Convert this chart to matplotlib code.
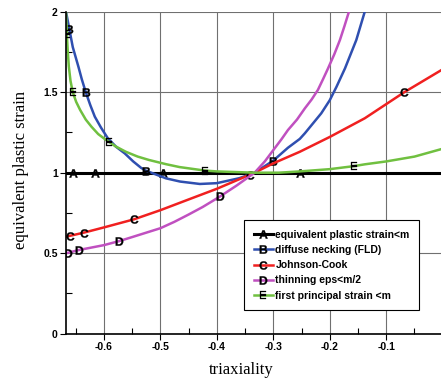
import matplotlib
matplotlib.use("Agg")
import matplotlib.pyplot as plt
from matplotlib.ticker import MultipleLocator, FormatStrFormatter

plt.rcParams['axes.unicode_minus'] = False
plt.rcParams['mathtext.fontset'] = 'custom'
plt.rcParams['mathtext.bf'] = 'Liberation Sans:bold'

# curve data (triaxiality, equivalent plastic strain)
a_x = [-0.667, -0.655, -0.616, -0.496, -0.253, -0.003]
a_y = [1.0, 1.0, 1.0, 1.0, 1.0, 1.0]

b_x = [-0.667, -0.661, -0.655, -0.645, -0.639, -0.632, -0.624, -0.616, -0.605, -0.593,
       -0.578, -0.563, -0.548, -0.534, -0.525, -0.516, -0.490, -0.465, -0.430, -0.400,
       -0.360, -0.333, -0.300, -0.274, -0.253, -0.244, -0.215, -0.200, -0.188, -0.173,
       -0.153, -0.138]
b_y = [2.00, 1.89, 1.78, 1.658, 1.58, 1.50, 1.42, 1.348, 1.28, 1.214,
       1.16, 1.12, 1.07, 1.03, 1.012, 1.00, 0.965, 0.945, 0.93, 0.935,
       0.966, 1.00, 1.075, 1.155, 1.21, 1.245, 1.369, 1.45, 1.534, 1.648,
       1.824, 2.00]

c_x = [-0.667, -0.660, -0.635, -0.600, -0.547, -0.500, -0.449, -0.400, -0.341, -0.333,
       -0.300, -0.253, -0.200, -0.138, -0.068, -0.003]
c_y = [0.603, 0.608, 0.628, 0.66, 0.71, 0.767, 0.835, 0.90, 0.988, 1.00,
       1.058, 1.13, 1.222, 1.338, 1.50, 1.636]

d_x = [-0.667, -0.663, -0.644, -0.600, -0.573, -0.550, -0.500, -0.475, -0.450, -0.425,
       -0.400, -0.394, -0.365, -0.333, -0.315, -0.300, -0.285, -0.274, -0.258, -0.244,
       -0.232, -0.221, -0.212, -0.203, -0.192, -0.182, -0.174, -0.166]
d_y = [0.50, 0.503, 0.52, 0.55, 0.575, 0.60, 0.655, 0.695, 0.74, 0.787,
       0.84, 0.853, 0.92, 1.00, 1.07, 1.14, 1.21, 1.265, 1.33, 1.40,
       1.455, 1.514, 1.58, 1.648, 1.735, 1.824, 1.91, 2.00]

e_x = [-0.667, -0.6655, -0.664, -0.662, -0.659, -0.655, -0.649, -0.642, -0.632, -0.622,
       -0.610, -0.596, -0.590, -0.580, -0.561, -0.540, -0.520, -0.490, -0.466, -0.425,
       -0.420, -0.400, -0.333, -0.290, -0.253, -0.200, -0.159, -0.157, -0.138, -0.100,
       -0.050, -0.003]
e_y = [2.00, 1.86, 1.76, 1.66, 1.57, 1.50, 1.44, 1.39, 1.33, 1.286,
       1.24, 1.203, 1.19, 1.165, 1.13, 1.10, 1.079, 1.053, 1.035, 1.015,
       1.013, 1.008, 1.00, 1.00, 1.008, 1.022, 1.04, 1.041, 1.052, 1.07,
       1.10, 1.146]

# which points carry the letter tags
a_tags = [1, 2, 3, 4]
b_tags = [1, 5, 14, 22]
c_tags = [1, 2, 4, 8, 14]
d_tags = [1, 2, 4, 11]
e_tags = [1, 5, 12, 20, 27]

labels = ["equivalent plastic strain<m", "diffuse necking (FLD)", "Johnson-Cook",
          "thinning eps<m/2", "first principal strain <m"]

fig = plt.figure(figsize=(4.41, 3.80), dpi=100)
ax = fig.add_axes([66/441, 46.3/380, 375/441, 322/380])

series = [
    (a_x, a_y, a_tags, 'black', 2.2, 'A'),
    (b_x, b_y, b_tags, '#2f4fb0', 1.8, 'B'),
    (c_x, c_y, c_tags, '#f02020', 1.8, 'C'),
    (d_x, d_y, d_tags, '#c050c0', 1.8, 'D'),
    (e_x, e_y, e_tags, '#70c040', 1.8, 'E'),
]

handles = []
for (xs, ys, tags, col, lw, letter), lab in zip(series, labels):
    ln, = ax.plot(xs, ys, color=col, lw=lw, marker=r'$\mathbf{%s}$' % letter,
                  markevery=tags, markersize=6, mfc='black', mec='black', mew=0.2,
                  label=lab, solid_joinstyle='round')
    handles.append(ln)

ax.set_xlim(-0.667, -0.003)
ax.set_ylim(0, 2)

ax.xaxis.set_major_locator(MultipleLocator(0.1))
ax.xaxis.set_minor_locator(MultipleLocator(0.05))
ax.yaxis.set_major_locator(MultipleLocator(0.5))
ax.yaxis.set_minor_locator(MultipleLocator(0.25))
ax.xaxis.set_major_formatter(FormatStrFormatter('%g'))
ax.yaxis.set_major_formatter(FormatStrFormatter('%g'))

ax.tick_params(which='major', direction='out', length=4, width=0.8, pad=2)
ax.tick_params(which='minor', direction='in', length=4, width=0.8)
for t in ax.get_xticklabels() + ax.get_yticklabels():
    t.set_fontfamily('Liberation Sans')
    t.set_fontweight('bold')
    t.set_fontsize(7.5)

ax.grid(True, which='major', color='#707070', lw=0.8)
ax.set_axisbelow(True)
ax.spines['top'].set_visible(False)
ax.spines['right'].set_visible(False)
ax.spines['left'].set_linewidth(1.2)
ax.spines['bottom'].set_linewidth(1.2)

ax.set_xlabel("triaxiality", family='Liberation Serif', fontsize=12)
ax.set_ylabel("equivalent plastic strain", family='Liberation Serif', fontsize=12)
ax.xaxis.set_label_coords(0.467, -0.088)
ax.yaxis.set_label_coords(-0.099, 0.508)

leg = ax.legend(handles=handles, loc='upper left', bbox_to_anchor=(0.475, 0.352),
                borderaxespad=0, frameon=True, fancybox=False, framealpha=1,
                edgecolor='black', numpoints=1, handlelength=1.9, handletextpad=0.2,
                borderpad=0.9, labelspacing=0.5,
                prop={'family': 'Liberation Sans', 'weight': 'bold', 'size': 7.5})
leg.get_frame().set_linewidth(0.8)

fig.savefig("out.png", dpi=100)
